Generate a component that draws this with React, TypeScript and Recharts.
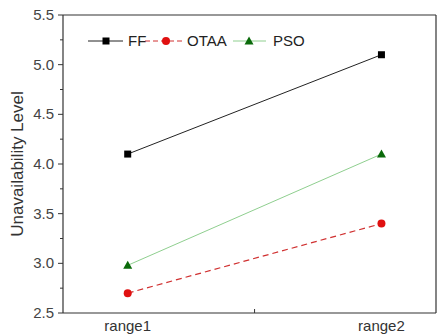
import { LineChart, Line, XAxis, YAxis, ReferenceLine } from "recharts";

const categories = ["range1", "range2"];
const xPositions = [1, 2];
const ffValues = [4.1, 5.1];
const otaaValues = [2.7, 3.4];
const psoValues = [2.98, 4.1];
const xTicks = [1, 1.5, 2];
const yTicks = [2.5, 2.75, 3.0, 3.25, 3.5, 3.75, 4.0, 4.25, 4.5, 4.75, 5.0, 5.25, 5.5];

const data = categories.map((name, i) => ({
  x: xPositions[i],
  name,
  ff: ffValues[i],
  otaa: otaaValues[i],
  pso: psoValues[i],
}));

const FONT = "'Liberation Sans', Arial, sans-serif";
const AXIS = "#333";
const X_MIN = 0.745;
const X_MAX = 2.215;

const SquareDot = (props: any) => {
  const { cx, cy } = props;
  return <rect x={cx - 3.5} y={cy - 3.5} width={7} height={7} fill="#000" />;
};
const CircleDot = (props: any) => {
  const { cx, cy } = props;
  return <circle cx={cx} cy={cy} r={4} fill="#e01010" />;
};
const TriangleDot = (props: any) => {
  const { cx, cy } = props;
  return <path d={`M${cx},${cy - 4.5}L${cx + 4.5},${cy + 3.5}L${cx - 4.5},${cy + 3.5}Z`} fill="#0a6a0a" />;
};

const XTick = (props: any) => {
  const { x, y, payload } = props;
  if (payload.value === 1.5) {
    return <line x1={x} x2={x} y1={y - 4} y2={y} stroke={AXIS} />;
  }
  const label = categories[xPositions.indexOf(payload.value)];
  return (
    <text x={x} y={y + 18} textAnchor="middle" fontFamily={FONT} fontSize={15} fill="#333">
      {label}
    </text>
  );
};

const YTick = (props: any) => {
  const { x, y, payload } = props;
  const major = Math.abs(payload.value * 2 - Math.round(payload.value * 2)) < 1e-6;
  return (
    <g>
      <line x1={x - (major ? 5 : 3)} x2={x} y1={y} y2={y} stroke={AXIS} />
      {major && (
        <text x={x - 9} y={y + 5} textAnchor="end" fontFamily={FONT} fontSize={15} fill="#444">
          {payload.value.toFixed(1)}
        </text>
      )}
    </g>
  );
};

const LegendBox = () => (
  <svg width={260} height={20} style={{ position: "absolute", top: 31, left: 88 }}>
    <g fontFamily={FONT} fontSize={15} fill="#222">
      <line x1={0} x2={35} y1={10} y2={10} stroke="#222" />
      <rect x={14.5} y={6.5} width={7} height={7} fill="#000" />
      <text x={40} y={15}>FF</text>
      <line x1={57} x2={97} y1={10} y2={10} stroke="#d03030" strokeDasharray="5 3" />
      <circle cx={78} cy={10} r={4} fill="#e01010" />
      <text x={99} y={15}>OTAA</text>
      <line x1={145} x2={178} y1={10} y2={10} stroke="#8fcf8f" />
      <path d="M161,5.5L165.5,13.5L156.5,13.5Z" fill="#0a6a0a" />
      <text x={185} y={15}>PSO</text>
    </g>
  </svg>
);

export default function App() {
  return (
    <div style={{ position: "relative", width: 444, height: 335 }}>
      <style>{"body{margin:0}"}</style>
      <LineChart width={444} height={335} data={data} margin={{ top: 15, right: 8, bottom: 0, left: 18 }}>
        <XAxis
          dataKey="x"
          type="number"
          domain={[X_MIN, X_MAX]}
          ticks={xTicks}
          tick={<XTick />}
          tickSize={0}
          tickMargin={0}
          tickLine={false}
          height={22}
          axisLine={{ stroke: AXIS, strokeWidth: 1.2 }}
          interval={0}
        />
        <YAxis
          type="number"
          domain={[2.5, 5.5]}
          ticks={yTicks}
          tick={<YTick />}
          tickSize={0}
          tickMargin={0}
          tickLine={false}
          width={45}
          interval={0}
          axisLine={{ stroke: AXIS, strokeWidth: 1.2 }}
          label={{
            value: "Unavailability Level",
            angle: -90,
            position: "insideLeft",
            offset: -1.5,
            style: { textAnchor: "middle", fontFamily: FONT, fontSize: 17, fill: "#333" },
          }}
        />
        <ReferenceLine y={5.5} stroke={AXIS} strokeWidth={1.2} />
        <ReferenceLine x={X_MAX} stroke={AXIS} strokeWidth={1.2} />
        <Line
          dataKey="ff"
          name="FF"
          stroke="#222"
          strokeWidth={1}
          dot={<SquareDot />}
          activeDot={false}
          isAnimationActive={false}
        />
        <Line
          dataKey="otaa"
          name="OTAA"
          stroke="#d03030"
          strokeWidth={1.2}
          strokeDasharray="6 4"
          dot={<CircleDot />}
          activeDot={false}
          isAnimationActive={false}
        />
        <Line
          dataKey="pso"
          name="PSO"
          stroke="#8fcf8f"
          strokeWidth={1}
          dot={<TriangleDot />}
          activeDot={false}
          isAnimationActive={false}
        />
      </LineChart>
      <LegendBox />
    </div>
  );
}
